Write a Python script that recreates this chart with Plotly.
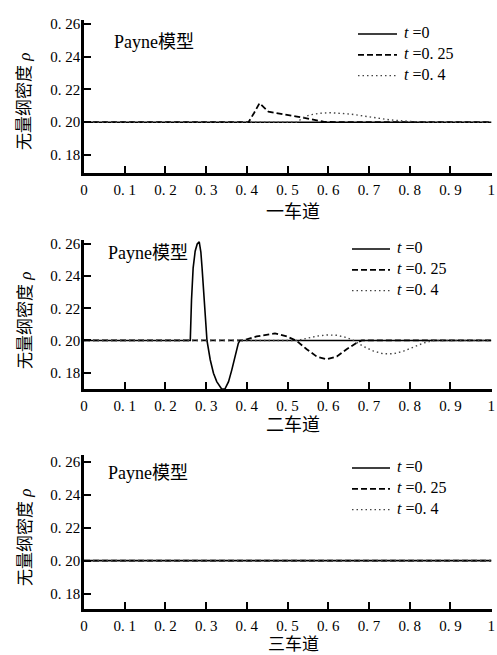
import plotly.graph_objects as go

# ---------------- data ----------------
x_tick_vals = [0, 0.1, 0.2, 0.3, 0.4, 0.5, 0.6, 0.7, 0.8, 0.9, 1]
x_tick_text = ["0", "0. 1", "0. 2", "0. 3", "0. 4", "0. 5", "0. 6", "0. 7", "0. 8", "0. 9", "1"]
y_tick_vals = [0.18, 0.20, 0.22, 0.24, 0.26]
y_tick_text = ["0. 18", "0. 20", "0. 22", "0. 24", "0. 26"]

lane_titles = ["一车道", "二车道", "三车道"]
series_names = ["<i>t</i> =0", "<i>t</i> =0. 25", "<i>t</i> =0. 4"]
model_label = "Payne模型"
y_title = "无量纲密度 <i>ρ</i>"

# lane 1
lane1_t0_x = [0, 0.5, 1]
lane1_t0_y = [0.2, 0.2, 0.2]
lane1_t025_x = [0, 0.404, 0.418, 0.431, 0.453, 0.482, 0.523, 0.555, 0.588, 0.62, 1]
lane1_t025_y = [0.2, 0.2, 0.2058, 0.2116, 0.2064, 0.205, 0.2034, 0.202, 0.2003, 0.2, 0.2]
lane1_t04_x = [0, 0.522, 0.54, 0.555, 0.58, 0.604, 0.654, 0.703, 0.752, 0.80, 0.85, 1]
lane1_t04_y = [0.2, 0.2, 0.203, 0.2045, 0.2055, 0.2058, 0.205, 0.203, 0.2014, 0.2005, 0.2, 0.2]

# lane 2
lane2_t0_x = [0, 0.261, 0.264, 0.268, 0.273, 0.278, 0.283, 0.287, 0.290, 0.294, 0.298,
              0.302, 0.310, 0.318, 0.326, 0.334, 0.338, 0.346, 0.355, 0.363, 0.371,
              0.379, 0.383, 1]
lane2_t0_y = [0.2, 0.2, 0.225, 0.245, 0.2555, 0.260, 0.2613, 0.255, 0.245, 0.228, 0.212,
              0.2, 0.188, 0.1796, 0.1744, 0.1713, 0.1698, 0.1698, 0.1744, 0.1817, 0.190,
              0.1982, 0.2, 0.2]
lane2_t025_x = [0, 0.391, 0.424, 0.449, 0.469, 0.498, 0.523, 0.547, 0.572, 0.596,
                0.621, 0.645, 0.670, 0.682, 1]
lane2_t025_y = [0.2, 0.2, 0.2025, 0.2037, 0.2044, 0.2025, 0.1996, 0.1945, 0.1899, 0.1883,
                0.190, 0.1945, 0.1986, 0.2, 0.2]
lane2_t04_x = [0, 0.523, 0.547, 0.572, 0.596, 0.621, 0.645, 0.662, 0.686, 0.711, 0.735,
               0.760, 0.785, 0.809, 0.834, 0.858, 1]
lane2_t04_y = [0.2, 0.2, 0.2013, 0.2027, 0.2034, 0.2032, 0.2018, 0.2, 0.1963, 0.1934, 0.1917,
               0.1917, 0.1934, 0.1959, 0.1984, 0.2, 0.2]

# lane 3
lane3_t0_x = [0, 0.5, 1]
lane3_t0_y = [0.2, 0.2, 0.2]
lane3_t025_x = [0, 0.5, 1]
lane3_t025_y = [0.2, 0.2, 0.2]
lane3_t04_x = [0, 0.5, 1]
lane3_t04_y = [0.2, 0.2, 0.2]

lanes = [
    [(lane1_t0_x, lane1_t0_y), (lane1_t025_x, lane1_t025_y), (lane1_t04_x, lane1_t04_y)],
    [(lane2_t0_x, lane2_t0_y), (lane2_t025_x, lane2_t025_y), (lane2_t04_x, lane2_t04_y)],
    [(lane3_t0_x, lane3_t0_y), (lane3_t025_x, lane3_t025_y), (lane3_t04_x, lane3_t04_y)],
]

# ---------------- layout / style ----------------
W, H = 497, 655
FONT = "Liberation Serif, Noto Sans CJK SC, serif"
LEG_FONT = 16
LEG_STEP = LEG_FONT * 1.3
line_styles = [
    dict(color="black", width=1.6, dash="solid"),
    dict(color="black", width=1.8, dash="6px,3px"),
    dict(color="#444444", width=1.4, dash="1.5px,3px"),
]

def py(px):  # pixel row -> paper y
    return 1 - px / H

def pxx(px):  # pixel col -> paper x
    return px / W

x_dom = [pxx(84), pxx(492)]
x_range = [0, 1.002]
panel_px = [(20, 173), (240, 389), (455, 609)]
y_ranges = [[0.169, 0.2624], [0.1698, 0.2625], [0.1706, 0.2641]]
x_title_pos = [(293, 212), (293, 425), (293, 644)]
x_title_size = [18, 18, 17]
y_title_pos = [(25, 102), (25, 321), (25, 538)]
model_pos = [(112, 42), (106, 253), (106, 473)]
legend_line_x = [(358, 397), (352, 390), (352, 390)]
legend_top_row = [34, 249, 468]

fig = go.Figure()
for i, lane in enumerate(lanes):
    xa = "x" if i == 0 else f"x{i+1}"
    ya = "y" if i == 0 else f"y{i+1}"
    for j, (xs, ys) in enumerate(lane):
        fig.add_trace(go.Scatter(x=xs, y=ys, mode="lines", line=line_styles[j],
                                 xaxis=xa, yaxis=ya, showlegend=False, hoverinfo="skip"))
    top, bot = panel_px[i]
    axis_common = dict(showline=True, linecolor="black", linewidth=2.5, ticks="inside",
                       ticklen=7, tickwidth=2, tickcolor="black", showgrid=False,
                       zeroline=False, automargin=False, ticklabeloverflow="allow",
                       tickfont=dict(family=FONT, size=15, color="black"))
    fig.layout[("xaxis" if i == 0 else f"xaxis{i+1}")] = dict(
        domain=x_dom, range=x_range, anchor=ya, tickmode="array",
        tickvals=x_tick_vals, ticktext=x_tick_text, ticklabelstandoff=1,
        **axis_common)
    fig.layout[("yaxis" if i == 0 else f"yaxis{i+1}")] = dict(
        domain=[py(bot), py(top)], range=y_ranges[i], anchor=xa, tickmode="array",
        tickvals=y_tick_vals, ticktext=y_tick_text, ticklabelstandoff=-2,
        **axis_common)

    tx, ty = x_title_pos[i]
    fig.add_annotation(x=pxx(tx), y=py(ty), xref="paper", yref="paper", xanchor="center",
                       yanchor="middle", showarrow=False, text=lane_titles[i], borderpad=0,
                       font=dict(family=FONT, size=x_title_size[i], color="black"))
    vx, vy = y_title_pos[i]
    fig.add_annotation(x=pxx(vx), y=py(vy), xref="paper", yref="paper", xanchor="center",
                       yanchor="middle", showarrow=False, text=y_title, textangle=-90,
                       font=dict(family=FONT, size=17, color="black"))
    mx, my = model_pos[i]
    fig.add_annotation(x=pxx(mx), y=py(my), xref="paper", yref="paper", xanchor="left",
                       yanchor="middle", showarrow=False, text=model_label,
                       font=dict(family=FONT, size=18, color="black"))
    lx0, lx1 = legend_line_x[i]
    r0 = legend_top_row[i]
    for j in range(len(series_names)):
        ry = r0 + j * LEG_STEP
        fig.add_shape(type="line", xref="paper", yref="paper", x0=pxx(lx0), x1=pxx(lx1),
                      y0=py(ry), y1=py(ry), line=line_styles[j])
    fig.add_annotation(x=pxx(lx1 + 6), y=py(r0 - LEG_STEP / 2 - 1), xref="paper", yref="paper",
                       xanchor="left", yanchor="top", align="left", showarrow=False,
                       text="<br>".join(series_names), borderpad=0,
                       font=dict(family=FONT, size=LEG_FONT, color="black"))

fig.update_layout(width=W, height=H, margin=dict(l=0, r=0, t=0, b=0),
                  paper_bgcolor="white", plot_bgcolor="white", showlegend=False)
fig.write_html("out.html", config={"displayModeBar": False},
               post_script="document.body.style.margin='0';"
                           "document.documentElement.style.overflow='hidden';")
